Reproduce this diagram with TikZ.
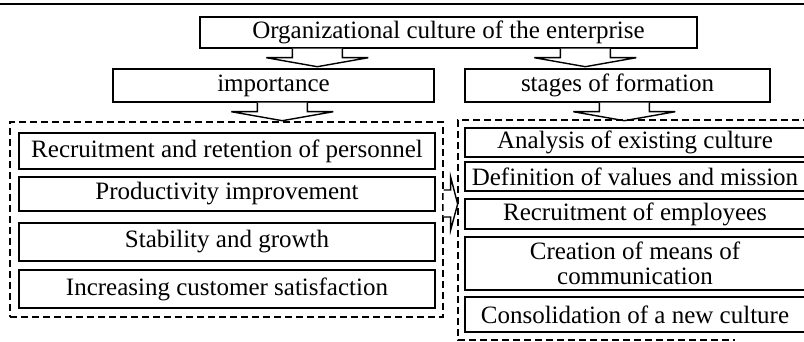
\documentclass[tikz,border=0pt]{standalone}
\usepackage{fontspec}
\setmainfont{Liberation Serif}
\usetikzlibrary{calc}
\begin{document}
\begin{tikzpicture}[x=1pt,y=-1pt,
  every node/.style={font=\fontsize{25}{25}\selectfont, inner sep=0pt},
  box/.style={draw, line width=1.4pt, align=center},
  group/.style={draw, line width=1.3pt, dash pattern=on 7pt off 4pt},
  blockarrow/.style={draw, line width=1.4pt, fill=white, line join=miter},
  pics/dnarrow/.style={code={
    \draw[blockarrow] (-25,0) -- (-25,9) -- (-51,9) -- (0,18) -- (51,9) -- (25,9) -- (25,0);
  }}]
\useasboundingbox (0,0) rectangle (804,342);
\draw[line width=2.2pt] (0,4) -- (804,4);

% headings
\node[box, minimum width=497pt, minimum height=31pt] (top) at (448.5,32.5) {Organizational culture of the enterprise};
\node[box, minimum width=321pt, minimum height=33pt] (imp) at (273.5,85.5) {importance};
\node[box, minimum width=305pt, minimum height=33pt] (stg) at (617.5,85.5) {stages of formation};

% arrows between headings
\pic at ($(top.south west)+(118,0)$) {dnarrow};
\pic at ($(top.south west)+(386,0)$) {dnarrow};
\pic at ($(imp.south west)+(170,0)$) {dnarrow};
\pic at ($(stg.south west)+(160,0)$) {dnarrow};

% importance group
\node[group, minimum width=433pt, minimum height=195pt] (lg) at (226.5,219.5) {};
\node[box, minimum width=416pt, minimum height=36pt] (l1) at (227,151) {Recruitment and retention of personnel};
\node[box, minimum width=416pt, minimum height=34pt] (l2) at (227,194) {Productivity improvement};
\node[box, minimum width=416pt, minimum height=38pt] (l3) at (227,242) {Stability and growth};
\node[box, minimum width=416pt, minimum height=38pt] (l4) at (227,289) {Increasing customer satisfaction};

% stages group (open to the right)
\coordinate (rg-tl) at (458,120);
\draw[group] (810,120) -- (rg-tl) -- (458,340) -- (735,340);
\node[box, minimum width=340pt, minimum height=29pt] (r1) at (635,142.5) {Analysis of existing culture};
\node[box, minimum width=340pt, minimum height=29pt] (r2) at (635,176.5) {Definition of values and mission};
\node[box, minimum width=340pt, minimum height=30pt] (r3) at (635,214) {Recruitment of employees};
\node[box, minimum width=340pt, minimum height=53pt] (r4) at (635,263.5) {Creation of means of\\communication};
\node[box, minimum width=340pt, minimum height=35pt] (r5) at (635,314.5) {Consolidation of a new culture};

% arrow from the importance group to the stages group
\draw[blockarrow] ($(lg.east)+(0,-29.5)$) -- ++(7,0) -- ++(0,-13) -- ($(lg.east)+(14,-15.5)$)
  -- ($(lg.east)+(7,10.5)$) -- ++(0,-13) -- ($(lg.east)+(0,-2.5)$);
\end{tikzpicture}
\end{document}
